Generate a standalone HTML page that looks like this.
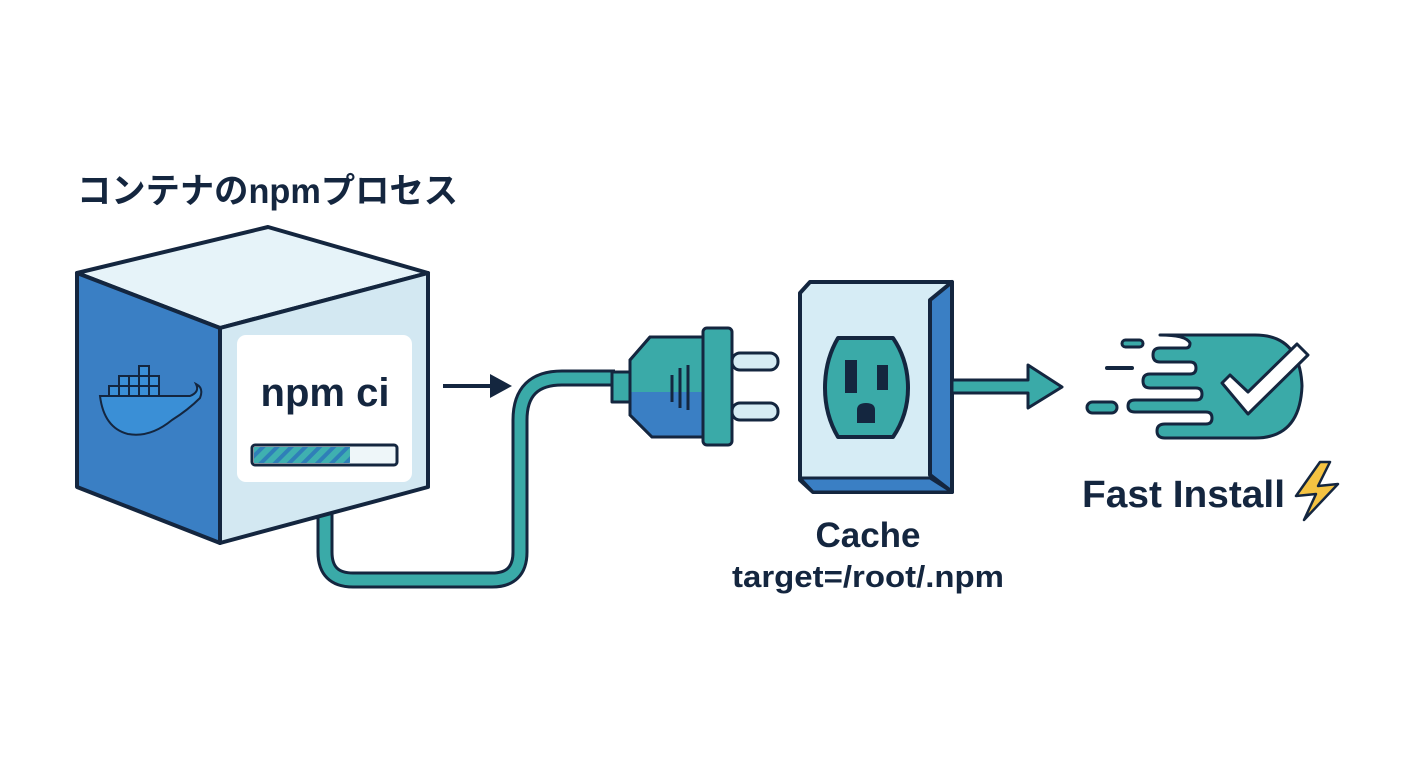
<!DOCTYPE html>
<html><head><meta charset="utf-8"><style>
html,body{margin:0;padding:0;background:#fff;width:1408px;height:768px;overflow:hidden}
svg{display:block}
text{font-family:"Liberation Sans","Noto Sans CJK JP",sans-serif;font-weight:bold;fill:#14263f}
</style></head><body>
<svg width="1408" height="768" viewBox="0 0 1408 768" xmlns="http://www.w3.org/2000/svg">
<defs>
<pattern id="st" width="10" height="10" patternUnits="userSpaceOnUse" patternTransform="rotate(45)">
<rect width="10" height="10" fill="#3fb0b0"/><rect width="4" height="10" fill="#2f7fb8"/>
</pattern>
</defs>
<text x="77" y="203" font-size="35" textLength="381" lengthAdjust="spacingAndGlyphs">コンテナのnpmプロセス</text>

<!-- cable -->
<path d="M325 512 V552 Q325 580 353 580 H492 Q520 580 520 552 V420 Q520 378 562 378 H615" fill="none" stroke="#14263f" stroke-width="17" stroke-linejoin="round"/>
<path d="M325 512 V552 Q325 580 353 580 H492 Q520 580 520 552 V420 Q520 378 562 378 H615" fill="none" stroke="#3aaaa8" stroke-width="11"/>

<!-- cube -->
<g stroke="#14263f" stroke-width="4" stroke-linejoin="round">
<polygon points="77,273 268,227 428,273 220,328" fill="#e6f3f9"/>
<polygon points="77,273 220,328 220,543 77,487" fill="#3a7fc4"/>
<polygon points="220,328 428,273 428,487 220,543" fill="#d3e8f2"/>
</g>
<rect x="237" y="335" width="175" height="147" rx="9" fill="#fff"/>
<text x="325" y="406" font-size="40" text-anchor="middle">npm ci</text>
<rect x="252" y="445" width="145" height="20" rx="3" fill="#eef6f9" stroke="#14263f" stroke-width="3"/>
<rect x="254" y="447" width="96" height="16" fill="url(#st)"/>

<!-- docker whale -->
<g stroke="#14263f" stroke-width="2" fill="#3a8fd6">
<path d="M100 396 H190 Q200 392 196 384 Q204 388 200 398 Q188 410 172 420 Q150 438 128 434 Q104 428 100 396 Z"/>
<rect x="109" y="386" width="10" height="10"/><rect x="119" y="386" width="10" height="10"/><rect x="129" y="386" width="10" height="10"/><rect x="139" y="386" width="10" height="10"/><rect x="149" y="386" width="10" height="10"/>
<rect x="119" y="376" width="10" height="10"/><rect x="129" y="376" width="10" height="10"/><rect x="139" y="376" width="10" height="10"/><rect x="149" y="376" width="10" height="10"/>
<rect x="139" y="366" width="10" height="10"/>
</g>

<!-- arrow dark -->
<line x1="443" y1="386" x2="495" y2="386" stroke="#14263f" stroke-width="4"/>
<polygon points="512,386 490,374 490,398" fill="#14263f"/>

<!-- plug -->
<g stroke="#14263f" stroke-width="3" stroke-linejoin="round">
<rect x="732" y="353" width="46" height="17" rx="8" fill="#d6ecf4"/>
<rect x="732" y="403" width="46" height="17" rx="8" fill="#d6ecf4"/>
<rect x="612" y="372" width="30" height="30" fill="#3aaaa8"/>
<polygon points="650,337 705,337 705,437 652,437 630,415 630,360" fill="#3aaaa8"/>
<polygon points="630,392 705,392 705,437 652,437 630,415" fill="#3a7fc4" stroke="none"/>
<polygon points="650,337 705,337 705,437 652,437 630,415 630,360" fill="none"/>
<rect x="703" y="328" width="29" height="117" rx="4" fill="#3aaaa8"/>
<line x1="672" y1="375" x2="672" y2="402"/><line x1="680" y1="368" x2="680" y2="408"/><line x1="688" y1="365" x2="688" y2="410"/>
</g>

<!-- outlet -->
<g stroke="#14263f" stroke-width="4" stroke-linejoin="round">
<polygon points="810,282 952,282 952,492 813,492 800,480 800,293" fill="#d6ecf5"/>
<polygon points="930,300 952,282 952,492 930,475" fill="#3a7fc4"/>
<polygon points="800,478 930,478 952,492 813,492" fill="#3a7fc4" stroke-width="3"/>
<path d="M838 338 H893 Q908 360 908 388 Q908 415 893 437 H838 Q825 415 825 388 Q825 360 838 338 Z" fill="#3aaaa8"/>
</g>
<rect x="845" y="360" width="12" height="33" fill="#14263f"/>
<rect x="877" y="365" width="11" height="25" fill="#14263f"/>
<path d="M857 423 V410 Q857 403 866 403 Q875 403 875 410 V423 Z" fill="#14263f"/>

<!-- teal arrow -->
<polygon points="952,380 1028,380 1028,365 1062,387 1028,408 1028,393 952,393" fill="#3aaaa8" stroke="#14263f" stroke-width="3" stroke-linejoin="round"/>

<!-- fast icon -->
<g stroke="#14263f" stroke-width="3" stroke-linejoin="round">
<path d="M1160 335 H1255 Q1300 335 1302 386 Q1300 438 1255 438 H1165 Q1157 438 1157 431 Q1157 424 1165 424 H1206 Q1212 424 1212 418 Q1212 412 1206 412 H1135 Q1128 412 1128 406 Q1128 400 1135 400 H1196 Q1202 400 1202 394 Q1202 388 1196 388 H1150 Q1143 388 1143 381 Q1143 374 1150 374 H1190 Q1196 374 1196 368 Q1196 362 1190 362 H1160 Q1153 362 1153 355 Q1153 348 1160 348 H1186 Q1190 348 1190 343 Q1186 335 1160 335 Z" fill="#3aaaa8"/>
<rect x="1122" y="340" width="21" height="7" rx="3.5" fill="#3aaaa8"/>
<rect x="1087" y="402" width="30" height="11" rx="5.5" fill="#3aaaa8"/>
<polygon points="1222,383 1230,375 1248,392 1297,344 1308,355 1248,414" fill="#fff"/>
</g>
<line x1="1107" y1="368" x2="1132" y2="368" stroke="#14263f" stroke-width="4" stroke-linecap="round"/>
<text x="1082" y="507" font-size="38" textLength="203" lengthAdjust="spacingAndGlyphs">Fast Install</text>
<polygon points="1320,462 1296,496 1316,494 1304,520 1338,484 1318,486 1330,462" fill="#f5c342" stroke="#14263f" stroke-width="2.5" stroke-linejoin="round"/>

<text x="868" y="547" font-size="35" text-anchor="middle">Cache</text>
<text x="868" y="587" font-size="31" text-anchor="middle" textLength="272" lengthAdjust="spacingAndGlyphs">target=/root/.npm</text>
</svg>
</body></html>
